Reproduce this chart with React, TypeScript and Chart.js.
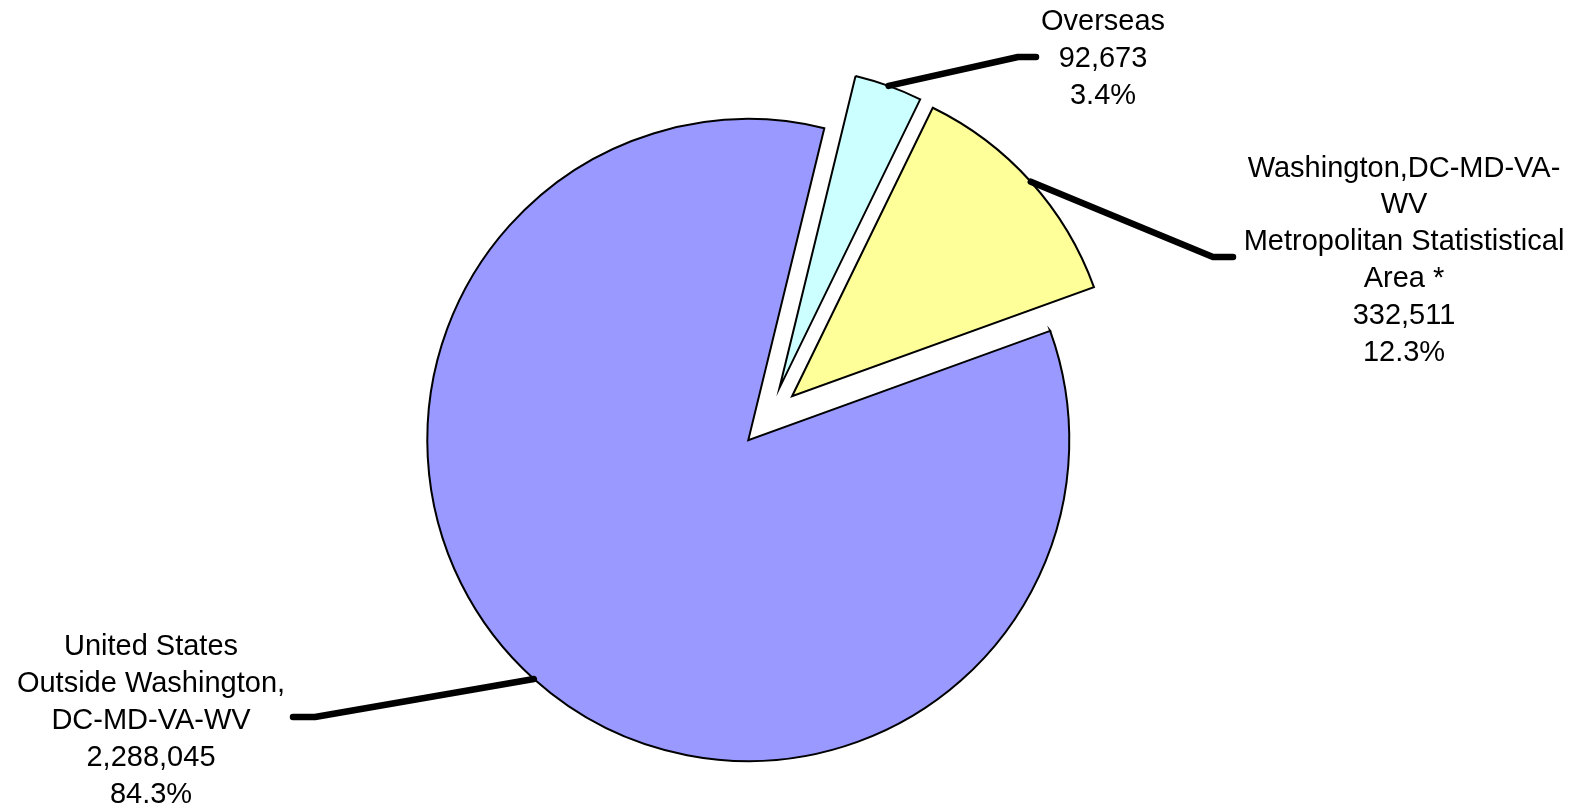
import React, { useEffect, useRef } from "react";
import { Chart, registerables } from "chart.js";

Chart.register(...registerables);

// ---- data ----
const categories = [
  "Overseas",
  "Washington,DC-MD-VA-WV Metropolitan Statististical Area *",
  "United States Outside Washington, DC-MD-VA-WV",
];
const categoryLines = [
  ["Overseas"],
  ["Washington,DC-MD-VA-", "WV", "Metropolitan Statististical", "Area *"],
  ["United States", "Outside Washington,", "DC-MD-VA-WV"],
];
const values = [92673, 332511, 2288045];
const sliceColors = ["#CCFFFF", "#FFFF99", "#9999FF"];

// ---- layout (label anchors, not data) ----
const labelLayout = [
  { cx: 1103, baseline: 30, elbow: [1018, 57], end: [1036, 57] },
  { cx: 1404, baseline: 176.5, elbow: [1213, 257], end: [1233, 257] },
  { cx: 151, baseline: 655, elbow: [315, 717], end: [293, 717] },
];
const EXPLODE = 31;
const LINE_HEIGHT = 36.9;
const FONT = '29px "Liberation Sans", Arial, sans-serif';

const total = values.reduce((a, b) => a + b, 0);

const explodePlugin = {
  id: "explodeSlices",
  afterDatasetsUpdate(chart: any) {
    const meta = chart.getDatasetMeta(0);
    meta.data.forEach((arc: any) => {
      const mid = (arc.startAngle + arc.endAngle) / 2;
      arc.x += Math.cos(mid) * EXPLODE;
      arc.y += Math.sin(mid) * EXPLODE;
    });
  },
};

const labelPlugin = {
  id: "sliceLabels",
  afterDatasetsDraw(chart: any) {
    const ctx = chart.ctx as CanvasRenderingContext2D;
    const meta = chart.getDatasetMeta(0);
    meta.data.forEach((arc: any, i: number) => {
      const lay = labelLayout[i];
      const mid = (arc.startAngle + arc.endAngle) / 2;
      const px = arc.x + Math.cos(mid) * arc.outerRadius;
      const py = arc.y + Math.sin(mid) * arc.outerRadius;
      ctx.save();
      ctx.strokeStyle = "#000";
      ctx.lineWidth = 6.5;
      ctx.lineCap = "round";
      ctx.lineJoin = "round";
      ctx.beginPath();
      ctx.moveTo(px, py);
      ctx.lineTo(lay.elbow[0], lay.elbow[1]);
      ctx.lineTo(lay.end[0], lay.end[1]);
      ctx.stroke();

      const lines = [
        ...categoryLines[i],
        values[i].toLocaleString("en-US"),
        ((values[i] / total) * 100).toFixed(1) + "%",
      ];
      ctx.fillStyle = "#000";
      ctx.font = FONT;
      ctx.textAlign = "center";
      ctx.textBaseline = "alphabetic";
      lines.forEach((t, j) => {
        ctx.fillText(t, lay.cx, lay.baseline + j * LINE_HEIGHT);
      });
      ctx.restore();
    });
  },
};

export default function App() {
  const ref = useRef<HTMLCanvasElement | null>(null);

  useEffect(() => {
    if (!ref.current) return;
    const chart = new Chart(ref.current, {
      type: "pie",
      data: {
        labels: categories,
        datasets: [
          {
            data: values,
            backgroundColor: sliceColors,
            borderColor: "#000000",
            borderWidth: 2,
            borderJoinStyle: "miter",
          } as any,
        ],
      },
      options: {
        animation: false,
        responsive: true,
        maintainAspectRatio: false,
        events: [],
        rotation: 13.7,
        radius: 321,
        layout: { padding: { left: 0, right: 38, top: 30, bottom: 0 } },
        plugins: {
          legend: { display: false },
          tooltip: { enabled: false },
        },
      } as any,
      plugins: [explodePlugin, labelPlugin],
    });
    return () => chart.destroy();
  }, []);

  return (
    <div
      style={{
        position: "absolute",
        left: 0,
        top: 0,
        width: 1576,
        height: 804,
        background: "#ffffff",
      }}
    >
      <canvas ref={ref} />
    </div>
  );
}
